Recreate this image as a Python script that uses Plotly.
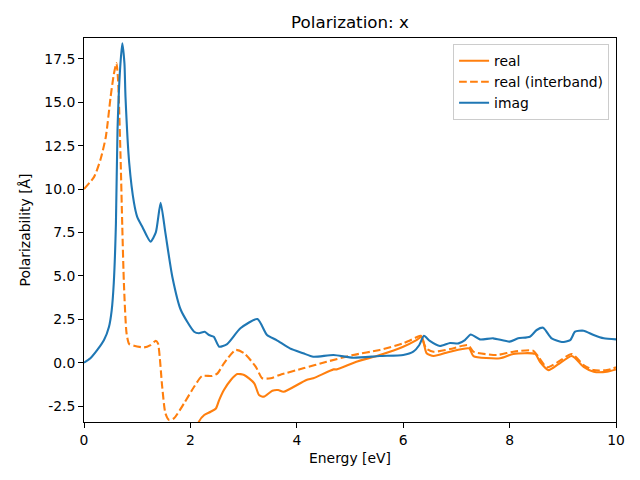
import plotly.graph_objects as go

# imag
imag_x = [0, 0.12, 0.25, 0.376, 0.47, 0.52, 0.56, 0.60, 0.63, 0.68, 0.72, 0.76, 0.78, 0.85, 0.94, 1.0, 1.10, 1.25, 1.35, 1.44,
          1.53, 1.66, 1.82, 2.07, 2.16, 2.27, 2.35, 2.44, 2.54, 2.69, 2.94, 3.26, 3.44, 3.62, 3.87, 4.12,
          4.31, 4.69, 5.06, 5.56, 6.0, 6.19, 6.30, 6.39, 6.50, 6.69, 6.88, 7.04, 7.16, 7.27, 7.44, 7.69,
          8.0, 8.16, 8.38, 8.51, 8.63, 8.79, 8.98, 9.14, 9.23, 9.39, 9.58, 9.77, 10.0]
imag_y = [0.0, 0.25, 0.73, 1.3, 2.07, 3.0, 4.6, 8.0, 13.4, 17.0, 18.4, 17.25, 15.3, 11.5, 9.2, 8.4, 7.8, 6.97, 7.5, 9.2,
          7.47, 4.95, 3.03, 1.78, 1.69, 1.78, 1.59, 1.49, 0.92, 1.07, 1.98, 2.51, 1.59, 1.30, 0.82, 0.54,
          0.34, 0.44, 0.28, 0.38, 0.44, 0.63, 1.0, 1.55, 1.25, 0.96, 1.13, 1.11, 1.3, 1.62, 1.34, 1.4,
          1.21, 1.4, 1.49, 1.88, 2.01, 1.4, 1.19, 1.3, 1.78, 1.84, 1.59, 1.4, 1.34]

# real (interband)
inter_x = [0, 0.19, 0.31, 0.41, 0.50, 0.56, 0.61, 0.64, 0.69, 0.72, 0.75, 0.80, 0.85, 0.94, 1.13, 1.25, 1.35,
           1.39, 1.47, 1.53, 1.60, 1.69, 1.88, 2.07, 2.22, 2.41, 2.51, 2.63, 2.85, 3.01, 3.23, 3.35, 3.51,
           3.68, 4.12, 4.56, 5.06, 5.56, 6.0, 6.25, 6.33, 6.43, 6.57, 6.88, 7.22, 7.32, 7.76, 8.07, 8.44,
           8.54, 8.70, 8.89, 9.17, 9.39, 9.58, 9.83, 10.0]
inter_y = [10.0, 10.7, 11.7, 13.0, 15.3, 16.6, 17.25, 16.3, 11.5, 7.8, 4.57, 1.69, 1.07, 0.97, 0.88, 1.01, 1.26,
           1.11, -1.39, -2.92, -3.31, -3.21, -2.35, -1.39, -0.77, -0.77, -0.62, -0.04, 0.73, 0.54, -0.24, -0.90, -0.90,
           -0.71, -0.33, 0.05, 0.44, 0.73, 1.11, 1.46, 1.55, 0.82, 0.63, 0.78, 1.01, 0.63, 0.44, 0.63, 0.69,
           0.34, -0.27, 0.0, 0.50, -0.14, -0.43, -0.43, -0.27]

# real (total)
real_x = [0.2, 0.5, 1.0, 1.5, 1.8, 2.0, 2.1, 2.16, 2.26, 2.38, 2.48, 2.54, 2.63, 2.76, 2.88, 3.01, 3.20, 3.29,
          3.38, 3.54, 3.65, 3.75, 4.18, 4.31, 4.69, 4.75, 5.12, 5.56, 6.0, 6.25, 6.35, 6.44, 6.57, 6.88,
          7.24, 7.32, 7.82, 8.07, 8.48, 8.57, 8.73, 8.92, 9.17, 9.39, 9.58, 9.83, 10.0]
real_y = [-200, -40, -20, -12, -7, -5, -4.2, -3.4, -3.02, -2.83, -2.64, -2.16, -1.58, -1.0, -0.66, -0.71, -1.19, -1.87,
          -1.96, -1.62, -1.58, -1.68, -1.0, -0.90, -0.39, -0.39, 0.05, 0.44, 0.92, 1.30, 1.49, 0.54, 0.38, 0.63,
          0.82, 0.38, 0.25, 0.50, 0.50, 0.05, -0.43, -0.08, 0.38, -0.24, -0.52, -0.52, -0.39]

y_ticks = [-2.5, 0.0, 2.5, 5.0, 7.5, 10.0, 12.5, 15.0, 17.5]
x_ticks = [0, 2, 4, 6, 8, 10]

ORANGE = "#ff7f0e"
BLUE = "#1f77b4"
FONT = "DejaVu Sans"

W, H = 632, 472  # page body has an 8px margin

fig = go.Figure()
fig.add_trace(go.Scatter(x=real_x, y=real_y, mode="lines", name="real",
                         line=dict(color=ORANGE, width=2.1, shape="spline", smoothing=0.6)))
fig.add_trace(go.Scatter(x=inter_x, y=inter_y, mode="lines", name="real (interband)",
                         line=dict(color=ORANGE, width=2.1, dash="7.7px,3.3px", shape="spline", smoothing=0.6)))
fig.add_trace(go.Scatter(x=imag_x, y=imag_y, mode="lines", name="imag",
                         line=dict(color=BLUE, width=2.1, shape="spline", smoothing=0.6)))

axis_common = dict(showline=True, linecolor="black", linewidth=1.1, mirror=True,
                   ticks="outside", ticklen=4.9, tickwidth=1.1, tickcolor="black",
                   showgrid=False, zeroline=False, automargin=False,
                   tickfont=dict(family=FONT, size=13.9, color="black"))

fig.update_layout(
    width=W, height=H,
    margin=dict(l=76, r=24, t=30, b=58, autoexpand=False),
    paper_bgcolor="white", plot_bgcolor="white",
    font=dict(family=FONT, size=13.9, color="black"),
    title=dict(text="Polarization: x", x=0.5, xref="paper", xanchor="center",
               y=1 - 14 / H, yref="container", yanchor="middle",
               font=dict(family=FONT, size=16.7, color="black")),
    xaxis=dict(range=[0, 10], tickvals=x_ticks, ticktext=[str(v) for v in x_ticks],
               title=dict(text="Energy [eV]", font=dict(family=FONT, size=13.9), standoff=6),
               **axis_common),
    yaxis=dict(range=[-3.42, 18.7], tickvals=y_ticks, ticktext=[f"{v:.1f}" for v in y_ticks],
               title=dict(text="Polarizability [Å]", font=dict(family=FONT, size=13.9), standoff=10),
               **axis_common),
    legend=dict(x=0.987, y=0.984, xanchor="right", yanchor="top",
                bgcolor="rgba(255,255,255,0.8)", bordercolor="#cccccc", borderwidth=1,
                font=dict(family=FONT, size=13.9), tracegroupgap=0),
    showlegend=True,
)

fig.write_html("out.html")
